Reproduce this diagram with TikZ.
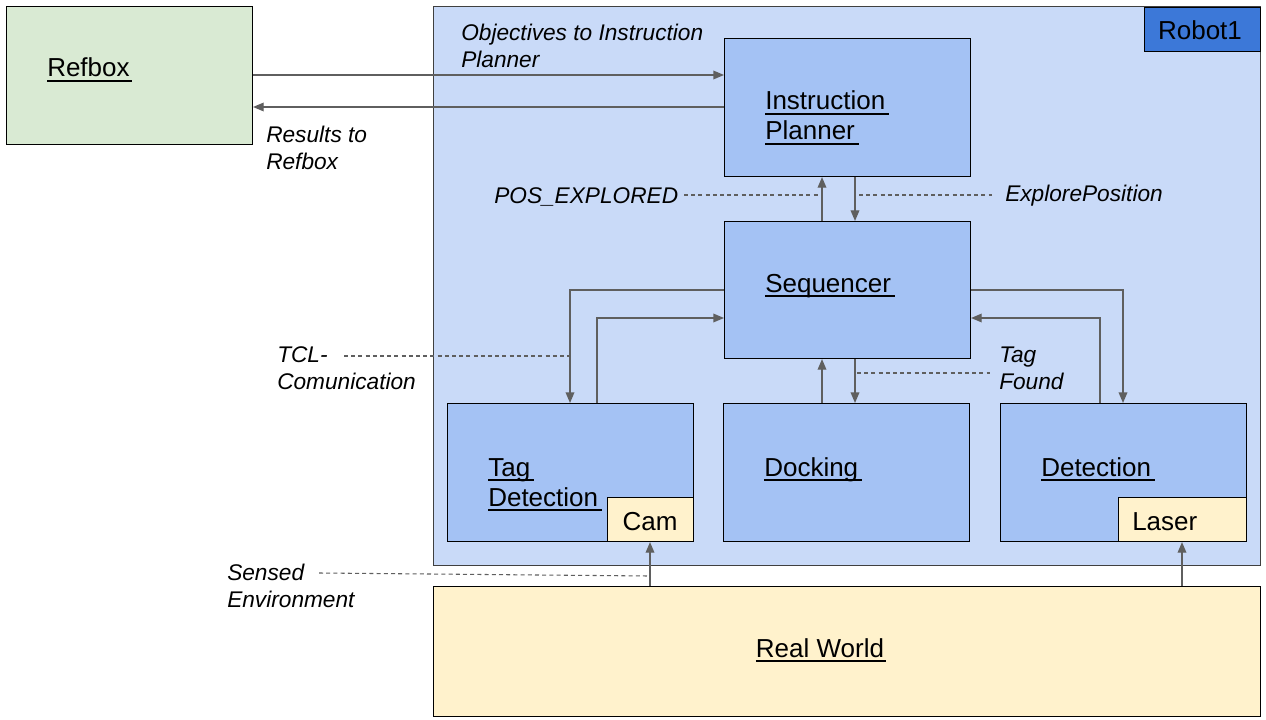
\documentclass[tikz,border=0pt]{standalone}
\usepackage{fontspec}
\setmainfont{Liberation Sans}
\usetikzlibrary{arrows.meta}
\definecolor{refgreen}{HTML}{D9EAD3}
\definecolor{robotbg}{HTML}{C9DAF8}
\definecolor{modbg}{HTML}{A4C2F4}
\definecolor{robotlbl}{HTML}{3C78D8}
\definecolor{sensorbg}{HTML}{FFF2CC}
\definecolor{arrgray}{HTML}{5F5F5F}
\newcommand\boxfont{\fontsize{19.5}{22.5}\selectfont}
\newcommand\lblfont{\fontsize{17}{20.25}\selectfont\itshape}
\newcommand\twoline[2]{\begin{tabular}[t]{@{}l@{}}#1\\#2\end{tabular}}
\newcommand\uline[1]{\setbox0\hbox{#1}\rlap{\rule[-3.6pt]{\wd0}{1.5pt}}\box0}
\begin{document}
\begin{tikzpicture}[x=0.75pt,y=-0.75pt,
  box/.style={draw=black, line width=0.8pt, anchor=north west, inner sep=0pt},
  stdbox/.style={box, fill=modbg, minimum width=184.5pt, minimum height=103.5pt},
  btxt/.style={anchor=base west, inner sep=0pt, font=\boxfont},
  ltxt/.style={anchor=base west, inner sep=0pt, font=\lblfont},
  arr/.style={draw=arrgray, line width=1pt, -{Triangle[length=8pt,width=6.5pt]}},
  dsh/.style={draw=arrgray, line width=0.8pt, dash pattern=on 3pt off 2.4pt}]
\fill[white] (0,0) rectangle (1266,720);
\useasboundingbox (0,0) rectangle (1266,720);

% containers
\node[box, fill=robotbg, draw=black!75, minimum width=620.25pt, minimum height=419.25pt] (robot) at (433,6) {};
\node[box, fill=robotlbl, minimum width=87pt, minimum height=33pt] (robotlab) at (1144,7) {};
\node[anchor=base, inner sep=0pt, font=\boxfont] (robottxt) at (1200,40) {Robot1};
\node[box, fill=refgreen, minimum width=184.5pt, minimum height=103.5pt] (refbox) at (6,6) {};
\node[box, fill=sensorbg, minimum width=620.25pt, minimum height=97.5pt] (world) at (433,586) {};

% modules
\node[stdbox] (ip) at (724,38) {};
\node[stdbox, minimum height=102.75pt] (seq) at (724,221) {};
\node[stdbox] (tagdet) at (447,403) {};
\node[stdbox] (dock) at (723,403) {};
\node[stdbox] (det) at (1000,403) {};
\node[box, fill=sensorbg, minimum width=64.5pt, minimum height=33pt] (cam) at (607,497) {};
\node[box, fill=sensorbg, minimum width=96pt, minimum height=33pt] (laser) at (1118,497) {};

% box texts
\node[btxt] (reftxt) at (47,77) {\uline{Refbox\kern1.5pt}};
\node[btxt] (iptxt) at (765,110) {\twoline{\uline{Instruction\kern3pt}}{\uline{Planner\kern3pt}}};
\node[btxt] (seqtxt) at (765,292) {\uline{Sequencer\kern3pt}};
\node[btxt] (tagtxt) at (488,476) {\twoline{\uline{Tag\kern3pt}}{\uline{Detection\kern3pt}}};
\node[btxt] (docktxt) at (764,476) {\uline{Docking\kern3pt}};
\node[btxt] (dettxt) at (1041,476) {\uline{Detection\kern3pt}};
\node[anchor=base, inner sep=0pt, font=\boxfont] (camtxt) at (650,530) {Cam};
\node[btxt] (lasertxt) at (1132,530) {Laser};
\node[anchor=base, inner sep=0pt, font=\boxfont] (worldtxt) at (821,657) {\uline{Real World\kern1.5pt}};

% italic labels
\node[ltxt] (objlbl) at (461,41) {\twoline{Objectives to Instruction}{Planner}};
\node[ltxt] (reslbl) at (266,143) {\twoline{Results to}{Refbox}};
\node[ltxt] (poslbl) at (494,204) {POS\_EXPLORED};
\node[ltxt] (explbl) at (1005,202) {ExplorePosition};
\node[ltxt] (tcllbl) at (277,362) {\twoline{TCL-}{Comunication}};
\node[ltxt] (taglbl) at (999,362) {\twoline{Tag}{Found}};
\node[ltxt] (senslbl) at (227,580) {\twoline{Sensed}{Environment}};

% helper coordinates
\coordinate (hA) at (0,75);
\coordinate (hB) at (0,107);
\coordinate (hC) at (0,290);
\coordinate (hD) at (0,318);
\coordinate (vA) at (822,0);
\coordinate (vB) at (855,0);
\coordinate (vC) at (570,0);
\coordinate (vD) at (597,0);
\coordinate (vE) at (1123,0);
\coordinate (vF) at (1100,0);
\coordinate (vG) at (650,0);
\coordinate (vH) at (1182,0);

% connectors
\draw[arr] (refbox.east |- hA) -- (ip.west |- hA);
\draw[arr] (ip.west |- hB) -- (refbox.east |- hB);
\draw[arr] (seq.north -| vA) -- (ip.south -| vA);
\draw[arr] (ip.south -| vB) -- (seq.north -| vB);
\draw[arr] (seq.west |- hC) -| (tagdet.north -| vC);
\draw[arr] (tagdet.north -| vD) |- (seq.west |- hD);
\draw[arr] (seq.east |- hC) -| (det.north -| vE);
\draw[arr] (det.north -| vF) |- (seq.east |- hD);
\draw[arr] (dock.north -| vA) -- (seq.south -| vA);
\draw[arr] (seq.south -| vB) -- (dock.north -| vB);
\draw[arr] (world.north -| vG) -- (cam.south -| vG);
\draw[arr] (world.north -| vH) -- (laser.south -| vH);

% dashed label leaders
\coordinate (posS) at (684,195);
\coordinate (posE) at (818,195);
\coordinate (expS) at (859,195);
\coordinate (expE) at (992,195);
\coordinate (tclS) at (344,356);
\coordinate (tclE) at (569,356);
\coordinate (tagS) at (857,373);
\coordinate (tagE) at (990,373);
\coordinate (senS) at (319,573);
\coordinate (senE) at (649,576);
\draw[dsh] (posS) -- (posE);
\draw[dsh] (expS) -- (expE);
\draw[dsh] (tclS) -- (tclE);
\draw[dsh] (tagS) -- (tagE);
\draw[dsh] (senS) -- (senE);
\end{tikzpicture}
\end{document}
